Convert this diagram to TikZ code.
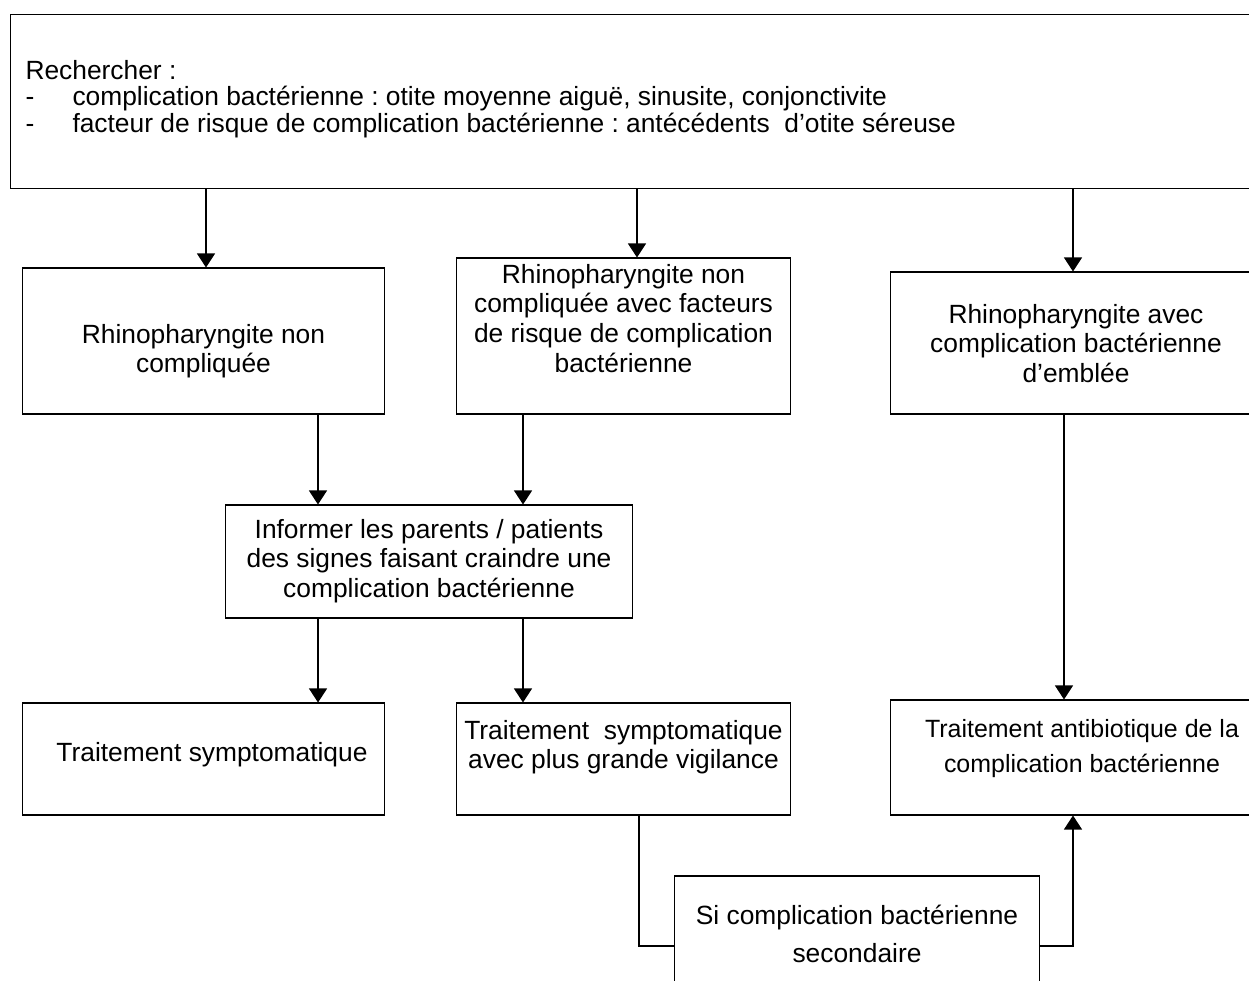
\documentclass[tikz,border=0pt]{standalone}
\usepackage{fontspec}
\setmainfont{Liberation Sans}
\usetikzlibrary{arrows.meta,
                positioning}
% texte d'une case : largeur, hauteur, espace en haut, texte
\newcommand{\casetext}[4]{\parbox[c][#2][t]{#1}{\centering\vspace*{#3}#4}}

\begin{document}
\frenchspacing
\begin{tikzpicture}[x=0.02cm, y=-0.02cm, line width=0.6pt,
    box/.style={draw, inner sep=0pt, font=\fontsize{15}{17}\selectfont},
    arr/.style={-{Triangle[width=0.36cm,length=0.28cm]}}]
    \useasboundingbox (0,0) rectangle (1249,981);
    \clip (0,0) rectangle (1249,981);

    % Rechercher
    \node[draw, anchor=north west, inner ysep=0pt, inner xsep=0.3cm,
          font=\fontsize{15}{15}\selectfont] (top) at (10,14)
        {\parbox[c][3.48cm][t]{24.8cm}{\raggedright\vspace*{0.92cm}%
         Rechercher :\\
         \makebox[0.94cm][l]{-}complication bactérienne : otite moyenne aiguë, sinusite, conjonctivite\\
         \makebox[0.94cm][l]{-}facteur de risque de complication bactérienne : antécédents\ \ d’otite séreuse}};

    % Rhinopharyngite
    \node[box] (nc) at (203.5,341)
        {\casetext{7.26cm}{2.92cm}{1.12cm}{Rhinopharyngite non\\ compliquée}};
    \node[box] (ncr) at (623.5,336)
        {\casetext{6.7cm}{3.12cm}{0.12cm}{Rhinopharyngite non\\ compliquée avec facteurs\\ de risque de complication\\ bactérienne}};
    \node[box] (cb) at (1076,343)
        {\casetext{7.44cm}{2.84cm}{0.64cm}{Rhinopharyngite avec\\ complication bactérienne\\ d’emblée}};

    % Informer
    \node[box] (info) at (429,561.5)
        {\casetext{8.16cm}{2.26cm}{0.28cm}{Informer les parents / patients\\ des signes faisant craindre une\\ complication bactérienne}};

    % Traitements
    \node[box] (ts) at (203.5,759)
        {\casetext{7.26cm}{2.24cm}{0.78cm}{\hspace*{0.34cm}Traitement symptomatique}};
    \node[box] (tsv) at (623.5,759)
        {\casetext{6.7cm}{2.24cm}{0.34cm}{Traitement\ \ symptomatique\\ avec plus grande vigilance}};
    \node[box, font=\fontsize{14.2}{17}\selectfont] (ta) at (1082,757.5)
        {\casetext{7.68cm}{2.3cm}{0.38cm}{Traitement antibiotique de la\\[0.12cm] complication bactérienne}};

    % Si complication
    \node[box] (sec) at (857,946)
        {\casetext{7.32cm}{2.8cm}{0.58cm}{Si complication bactérienne\\[0.16cm] secondaire}};

    % fleches
    \draw[arr] ([xshift=0.05cm]top.south -| nc.north) -- ([xshift=0.05cm]nc.north);
    \draw[arr] ([xshift=0.27cm]ncr.north |- top.south) -- ([xshift=0.27cm]ncr.north);
    \draw[arr] ([xshift=-0.06cm]cb.north |- top.south) -- ([xshift=-0.06cm]cb.north);

    \draw[arr] ([xshift=2.29cm]nc.south) -- ([xshift=2.29cm]nc.south |- info.north);
    \draw[arr] ([xshift=-2.01cm]ncr.south) -- ([xshift=-2.01cm]ncr.south |- info.north);

    \draw[arr] ([xshift=-2.22cm]info.south) -- ([xshift=-2.22cm]info.south |- ts.north);
    \draw[arr] ([xshift=1.88cm]info.south) -- ([xshift=1.88cm]info.south |- tsv.north);
    \draw[arr] ([xshift=-0.24cm]cb.south) -- ([xshift=-0.24cm]cb.south |- ta.north);

    \draw ([xshift=0.31cm]tsv.south) |- (sec.west);
    \draw[arr] (sec.east) -| ([xshift=-0.18cm]ta.south);

\end{tikzpicture}
\end{document}
